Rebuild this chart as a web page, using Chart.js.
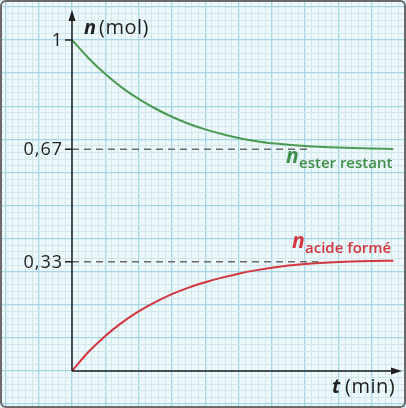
<!DOCTYPE html>
<html lang="fr">
<head>
  <meta charset="UTF-8" />
  <title>Estérification</title>
  <script src="https://cdn.jsdelivr.net/npm/chart.js"></script>
  <style>
    body { margin: 0; background: #fff; }
    .wrap { position: relative; width: 406px; height: 408px; }
  </style>
</head>
<body>
  <div class="wrap"><canvas id="chart"></canvas></div>

  <script>
    // valeurs (t en carreaux, n en mol)
    const temps = [0, 0.5, 1, 1.5, 2, 2.5, 3, 3.5, 4, 4.5, 5, 5.5, 6, 7, 8, 9, 9.65];
    const nEster = [1, 0.945, 0.897, 0.856, 0.822, 0.793, 0.768, 0.747, 0.730, 0.716, 0.704, 0.695, 0.688, 0.680, 0.675, 0.672, 0.671];
    const nAcide = [0, 0.058, 0.106, 0.146, 0.180, 0.208, 0.232, 0.252, 0.268, 0.282, 0.294, 0.304, 0.312, 0.323, 0.329, 0.332, 0.333];

    const paliers = [0.67, 0.33];
    const finPointilles = [7.2, 7.4];
    const yTicks = [1, 0.67, 0.33];
    const yTickLabels = ['1', '0,67', '0,33'];

    const vert = '#4a9a52';
    const rouge = '#d2363e';

    const pts = (ys) => temps.map((t, i) => ({ x: t, y: ys[i] }));

    const xMin = -2.162, xMax = 10.03;
    const yMin = -0.1118, yMax = 1.1208;

    function gridTicks(min, max, step) {
      const out = [];
      for (let k = Math.ceil(min / step); k * step <= max; k++) out.push({ value: +(k * step).toFixed(4) });
      return out;
    }

    const decor = {
      id: 'decor',
      beforeDraw(chart) {
        const { ctx, chartArea: a } = chart;
        ctx.save();
        ctx.fillStyle = '#edf8fa';
        ctx.fillRect(a.left, a.top, a.right - a.left, a.bottom - a.top);
        ctx.restore();
      },
      afterDatasetsDraw(chart) {
        const { ctx } = chart;
        const x = chart.scales.x, y = chart.scales.y;
        const x0 = x.getPixelForValue(0), y0 = y.getPixelForValue(0);
        ctx.save();
        // axes
        ctx.strokeStyle = '#1f1f1f';
        ctx.fillStyle = '#1f1f1f';
        ctx.lineWidth = 1.5;
        ctx.beginPath();
        ctx.moveTo(x0, y0); ctx.lineTo(x0, 18);
        ctx.moveTo(x0, y0); ctx.lineTo(394, y0);
        ctx.stroke();
        ctx.beginPath();
        ctx.moveTo(x0, 10); ctx.lineTo(x0 - 3.5, 21); ctx.lineTo(x0 + 3.5, 21); ctx.closePath();
        ctx.fill();
        ctx.beginPath();
        ctx.moveTo(402, y0); ctx.lineTo(391, y0 - 3.5); ctx.lineTo(391, y0 + 3.5); ctx.closePath();
        ctx.fill();

        // graduations de l'axe n
        ctx.font = '18px "Open Sans"';
        ctx.letterSpacing = '1px';
        ctx.textAlign = 'right';
        ctx.textBaseline = 'middle';
        yTicks.forEach((v, i) => {
          const py = y.getPixelForValue(v);
          ctx.beginPath();
          ctx.moveTo(x0 - 7, py); ctx.lineTo(x0, py);
          ctx.stroke();
          ctx.fillText(yTickLabels[i], x0 - 9, py + 1);
        });

        // titres des axes
        ctx.textAlign = 'left';
        ctx.textBaseline = 'alphabetic';
        ctx.letterSpacing = '0px';
        ctx.font = 'italic bold 20px "Open Sans"';
        ctx.fillText('n', 84, 34);
        ctx.font = '20px "Open Sans"';
        ctx.letterSpacing = '0.5px';
        ctx.fillText('(mol)', 99, 34);
        ctx.letterSpacing = '0px';
        ctx.font = 'italic bold 20px "Open Sans"';
        ctx.fillText('t', 332, 393);
        ctx.font = '20px "Open Sans"';
        ctx.letterSpacing = '0.5px';
        ctx.fillText('(min)', 345, 393);

        // noms des courbes
        ctx.letterSpacing = '0px';
        ctx.fillStyle = '#3f8e48';
        ctx.font = 'italic bold 21px "Open Sans"';
        ctx.fillText('n', 286, 163);
        ctx.font = '600 15px "Open Sans"';
        ctx.fillText('ester restant', 299, 168);
        ctx.fillStyle = rouge;
        ctx.font = 'italic bold 21px "Open Sans"';
        ctx.fillText('n', 292, 248);
        ctx.font = '600 15px "Open Sans"';
        ctx.fillText('acide formé', 305, 253);

        // cadre
        ctx.strokeStyle = '#6a6a6a';
        ctx.lineWidth = 2;
        ctx.beginPath();
        ctx.roundRect(1, 1, 404, 406, 5);
        ctx.stroke();
        ctx.restore();
      }
    };

    new Chart(document.getElementById('chart'), {
      type: 'line',
      data: {
        datasets: [
          {
            data: [{ x: 0, y: paliers[0] }, { x: finPointilles[0], y: paliers[0] }],
            borderColor: '#6b6b6b', borderWidth: 1.5, borderDash: [7, 5], pointRadius: 0
          },
          {
            data: [{ x: 0, y: paliers[1] }, { x: finPointilles[1], y: paliers[1] }],
            borderColor: '#6b6b6b', borderWidth: 1.5, borderDash: [7, 5], pointRadius: 0
          },
          {
            data: pts(nEster),
            borderColor: vert, borderWidth: 2, pointRadius: 0,
            cubicInterpolationMode: 'monotone'
          },
          {
            data: pts(nAcide),
            borderColor: rouge, borderWidth: 2, pointRadius: 0,
            cubicInterpolationMode: 'monotone'
          }
        ]
      },
      options: {
        responsive: true,
        maintainAspectRatio: false,
        animation: false,
        layout: { padding: 0 },
        plugins: { legend: { display: false }, tooltip: { enabled: false } },
        scales: {
          x: {
            type: 'linear', min: xMin, max: xMax,
            afterBuildTicks: (s) => { s.ticks = gridTicks(xMin, xMax, 0.2); },
            ticks: { display: false },
            border: { display: false },
            grid: {
              drawTicks: false,
              color: (c) => Math.abs(c.tick.value - Math.round(c.tick.value)) < 1e-6 ? '#a6d6e4' : '#d3e6ec',
              lineWidth: (c) => Math.abs(c.tick.value - Math.round(c.tick.value)) < 1e-6 ? 1.3 : 1
            }
          },
          y: {
            type: 'linear', min: yMin, max: yMax,
            afterBuildTicks: (s) => { s.ticks = gridTicks(yMin, yMax, 0.02); },
            ticks: { display: false },
            border: { display: false },
            grid: {
              drawTicks: false,
              color: (c) => Math.abs(c.tick.value * 10 - Math.round(c.tick.value * 10)) < 1e-6 ? '#a6d6e4' : '#d3e6ec',
              lineWidth: (c) => Math.abs(c.tick.value * 10 - Math.round(c.tick.value * 10)) < 1e-6 ? 1.3 : 1
            }
          }
        }
      },
      plugins: [decor]
    });
  </script>
</body>
</html>
